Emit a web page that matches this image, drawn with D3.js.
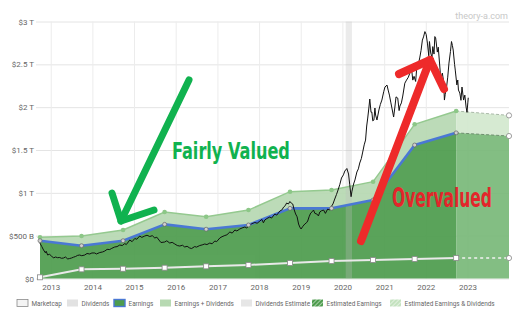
<!DOCTYPE html>
<html>
<head>
<meta charset="utf-8">
<script src="https://cdn.jsdelivr.net/npm/d3@7"></script>
<style>
  html, body { margin: 0; padding: 0; background: #fff; }
  svg { display: block; font-family: Roboto, "Liberation Sans", Arial, sans-serif; }
</style>
</head>
<body>
<svg id="chart" width="531" height="326"></svg>
<script>
// Fiscal-year reporting dates and the valuation series (values in $ billions)
const fiscalDates = ["2012-09-29", "2013-09-28", "2014-09-27", "2015-09-26", "2016-09-24",
  "2017-09-30", "2018-09-29", "2019-09-28", "2020-09-26", "2021-09-25", "2022-09-24"];
const earnings = [441, 383, 441, 632, 575, 625, 819, 819, 916, 1558, 1700];
const earningsPlusDividends = [481, 496, 566, 776, 721, 799, 1013, 1033, 1130, 1800, 1955];
const dividends = [14, 107, 114, 126, 142, 158, 181, 204, 216, 228, 239];

// Forward estimates: last reported year followed by the projection
const estimateDates = ["2022-09-24", "2023-12-31"];
const earningsEstimate = [1700, 1663];
const earningsPlusDividendsEstimate = [1955, 1904];
const dividendsEstimate = [239, 239];

// Market capitalisation ($ billions)
const marketCap = [
  ["2012-09-28",414],["2012-10-15",372],["2012-10-30",333],["2012-11-15",300],["2012-11-22",318],
  ["2012-12-05",274],["2012-12-20",283],["2013-01-08",263],["2013-01-25",240],["2013-02-13",251],
  ["2013-03-01",243],["2013-03-21",245],["2013-04-05",236],["2013-04-23",239],["2013-05-10",251],
  ["2013-05-30",228],["2013-06-15",233],["2013-07-02",239],["2013-07-20",249],["2013-08-07",257],
  ["2013-08-25",270],["2013-09-12",274],["2013-09-30",266],["2013-10-26",274],["2013-11-15",292],
  ["2013-12-09",286],["2013-12-28",298],["2014-01-22",298],["2014-02-05",286],["2014-03-07",303],
  ["2014-04-01",310],["2014-04-20",321],["2014-05-10",340],["2014-06-02",338],["2014-06-20",352],
  ["2014-07-16",368],["2014-08-05",372],["2014-08-29",391],["2014-09-20",385],["2014-10-12",408],
  ["2014-10-25",396],["2014-11-25",449],["2014-12-15",430],["2015-01-08",467],["2015-01-25",458],
  ["2015-02-20",496],["2015-03-10",480],["2015-04-05",496],["2015-04-25",505],["2015-05-19",490],
  ["2015-06-10",500],["2015-07-02",473],["2015-07-20",482],["2015-08-14",438],["2015-08-25",420],
  ["2015-09-27",426],["2015-10-15",440],["2015-11-10",414],["2015-12-01",422],["2015-12-24",403],
  ["2016-01-15",385],["2016-02-06",379],["2016-03-01",388],["2016-03-20",368],["2016-04-10",376],
  ["2016-05-03",356],["2016-05-20",350],["2016-06-16",373],["2016-07-01",366],["2016-07-30",385],
  ["2016-08-20",392],["2016-09-12",403],["2016-10-01",396],["2016-10-26",414],["2016-11-15",405],
  ["2016-12-09",438],["2016-12-25",430],["2017-01-22",473],["2017-02-10",488],["2017-03-07",502],
  ["2017-03-25",510],["2017-04-20",543],["2017-05-10",530],["2017-06-03",566],["2017-06-20",555],
  ["2017-07-16",578],["2017-08-05",590],["2017-08-29",601],["2017-09-15",590],["2017-10-12",624],
  ["2017-10-30",640],["2017-11-25",654],["2017-12-15",645],["2018-01-08",671],["2018-01-25",690],
  ["2018-02-08",650],["2018-02-20",683],["2018-03-10",700],["2018-04-05",718],["2018-04-20",705],
  ["2018-05-19",753],["2018-06-05",740],["2018-07-02",788],["2018-07-20",800],["2018-08-04",834],
  ["2018-08-18",850],["2018-08-30",881],["2018-09-15",870],["2018-09-28",899],["2018-10-10",880],
  ["2018-10-23",869],["2018-11-05",800],["2018-11-17",753],["2018-11-30",720],["2018-12-13",636],
  ["2018-12-24",600],["2019-01-04",578],["2019-01-20",610],["2019-02-06",636],["2019-02-20",650],
  ["2019-03-03",671],["2019-03-15",720],["2019-03-29",764],["2019-04-12",780],["2019-04-23",799],
  ["2019-05-05",760],["2019-05-22",753],["2019-06-05",730],["2019-06-17",776],["2019-07-01",790],
  ["2019-07-20",799],["2019-08-05",760],["2019-08-25",811],["2019-09-10",800],["2019-09-23",834],
  ["2019-10-10",870],["2019-10-26",928],["2019-11-10",980],["2019-11-21",1021],["2019-12-10",1100],
  ["2019-12-24",1173],["2020-01-10",1210],["2020-01-22",1254],["2020-02-09",1284],["2020-02-24",1220],
  ["2020-03-05",1100],["2020-03-17",955],["2020-03-25",1020],["2020-04-08",1103],["2020-04-20",1150],
  ["2020-05-07",1243],["2020-05-20",1280],["2020-06-01",1348],["2020-06-15",1400],["2020-06-27",1476],
  ["2020-07-10",1560],["2020-07-22",1616],["2020-08-01",1780],["2020-08-10",1873],["2020-08-20",1990],
  ["2020-08-28",2095],["2020-09-08",1940],["2020-09-15",1943],["2020-09-23",1840],["2020-10-03",1850],
  ["2020-10-12",1990],["2020-10-18",1908],["2020-10-30",1850],["2020-11-16",1967],["2020-11-28",2030],
  ["2020-12-12",2083],["2020-12-28",2180],["2021-01-08",2235],["2021-01-26",2258],["2021-02-05",2200],
  ["2021-02-16",2141],["2021-03-01",2050],["2021-03-10",1990],["2021-03-25",1885],["2021-04-05",2001],
  ["2021-04-15",2120],["2021-04-30",2106],["2021-05-12",1960],["2021-05-19",2013],["2021-06-01",2050],
  ["2021-06-13",2130],["2021-07-01",2280],["2021-07-16",2316],["2021-08-01",2350],["2021-08-14",2398],
  ["2021-08-28",2460],["2021-09-09",2316],["2021-09-20",2360],["2021-10-04",2300],["2021-10-12",2433],
  ["2021-10-25",2480],["2021-11-10",2585],["2021-11-20",2660],["2021-12-02",2783],["2021-12-12",2820],
  ["2021-12-24",2882],["2022-01-04",2850],["2022-01-15",2748],["2022-01-27",2600],["2022-02-02",2766],
  ["2022-02-13",2632],["2022-02-24",2580],["2022-03-03",2707],["2022-03-14",2620],["2022-03-21",2824],
  ["2022-03-28",2810],["2022-04-12",2643],["2022-04-20",2700],["2022-05-04",2468],["2022-05-12",2330],
  ["2022-05-26",2398],["2022-06-06",2300],["2022-06-13",2083],["2022-06-20",2150],["2022-07-02",2235],
  ["2022-07-12",2350],["2022-07-23",2515],["2022-08-05",2650],["2022-08-14",2766],["2022-08-22",2720],
  ["2022-08-29",2667],["2022-09-10",2500],["2022-09-16",2433],["2022-09-30",2260],["2022-10-08",2317],
  ["2022-10-14",2200],["2022-10-26",2165],["2022-11-05",2080],["2022-11-14",2235],["2022-11-28",2083],
  ["2022-12-09",2141],["2022-12-20",2001],["2022-12-28",1940],["2023-01-04",2050],["2023-01-08",2110]
];

// Axis ticks
const yTicks = [0, 500, 1000, 1500, 2000, 2500, 3000];
const yTickLabels = ["$0", "$500 B", "$1 T", "$1.5 T", "$2 T", "$2.5 T", "$3 T"];
const xTickYears = [2013, 2014, 2015, 2016, 2017, 2018, 2019, 2020, 2021, 2022, 2023];

// Highlighted period (market crash)
const crashPeriod = ["2020-01-30", "2020-03-25"];

const legendLabels = ["Marketcap", "Dividends", "Earnings", "Earnings + Dividends",
  "Dividends Estimate", "Estimated Earnings", "Estimated Earnings & Dividends"];

// ---------------------------------------------------------------------------
const parse = d3.timeParse("%Y-%m-%d");
const svg = d3.select("#chart");

const plot = { left: 40, right: 509, top: 21.5, bottom: 278.5 };

const x = d3.scaleTime()
  .domain([parse("2012-09-29"), parse("2023-12-31")])
  .range([plot.left, plot.right]);
const y = d3.scaleLinear().domain([0, 3000]).range([plot.bottom, plot.top]);

const C = {
  earnFill: "#4d9c4d",
  bandFill: "#b7d9b2",
  estEarnFill: "#79b979",
  estBandFill: "#d3e9cf",
  blue: "#4a78d4",
  bandLine: "#94c98f",
  grid: "#e4e4e4",
  text: "#666"
};

// hatch patterns for the estimate legend swatches
const defs = svg.append("defs");
function hatch(id, bg) {
  const p = defs.append("pattern").attr("id", id).attr("patternUnits", "userSpaceOnUse")
    .attr("width", 3).attr("height", 3).attr("patternTransform", "rotate(45)");
  p.append("rect").attr("width", 3).attr("height", 3).attr("fill", bg);
  p.append("line").attr("x1", 0).attr("y1", 0).attr("x2", 0).attr("y2", 3)
    .attr("stroke", "#fff").attr("stroke-width", 1);
}
hatch("hatchDark", "#4d9c4d");
hatch("hatchLight", "#c4e2bf");

// --- grid + axes -----------------------------------------------------------
const yAxis = svg.append("g")
  .attr("transform", `translate(${plot.right},0)`)
  .call(d3.axisLeft(y).tickValues(yTicks)
    .tickFormat((d, i) => yTickLabels[i])
    .tickSize(plot.right - 36).tickPadding(2));
yAxis.select(".domain").remove();
yAxis.selectAll(".tick line").attr("stroke", C.grid);
yAxis.selectAll(".tick text").attr("fill", C.text)
  .style("font-size", "8px").style("font-family", "Roboto, 'Liberation Sans', Arial, sans-serif");

const xAxis = svg.append("g")
  .attr("transform", `translate(0,${plot.bottom})`)
  .call(d3.axisBottom(x).tickValues(xTickYears.map(yr => new Date(yr, 0, 1)))
    .tickFormat(d3.timeFormat("%Y"))
    .tickSize(-(plot.bottom - plot.top)).tickPadding(6));
xAxis.select(".domain").remove();
xAxis.selectAll(".tick line").attr("stroke", "#ececec");
xAxis.selectAll(".tick text").attr("fill", C.text)
  .style("font-size", "8px").style("font-family", "Roboto, 'Liberation Sans', Arial, sans-serif");

// --- areas -----------------------------------------------------------------
const actual = fiscalDates.map((d, i) => ({
  date: parse(d), e: earnings[i], ed: earningsPlusDividends[i], dv: dividends[i]
}));
const estimate = estimateDates.map((d, i) => ({
  date: parse(d), e: earningsEstimate[i], ed: earningsPlusDividendsEstimate[i], dv: dividendsEstimate[i]
}));

const areas = svg.append("g").attr("opacity", 0.92);
areas.append("path").datum(actual)
  .attr("fill", C.bandFill)
  .attr("d", d3.area().x(d => x(d.date)).y0(d => y(d.e)).y1(d => y(d.ed)));
areas.append("path").datum(actual)
  .attr("fill", C.earnFill)
  .attr("d", d3.area().x(d => x(d.date)).y0(y(0)).y1(d => y(d.e)));
areas.append("path").datum(estimate)
  .attr("fill", C.estBandFill)
  .attr("d", d3.area().x(d => x(d.date)).y0(d => y(d.e)).y1(d => y(d.ed)));
areas.append("path").datum(estimate)
  .attr("fill", C.estEarnFill)
  .attr("d", d3.area().x(d => x(d.date)).y0(y(0)).y1(d => y(d.e)));

// crash period band
svg.append("rect")
  .attr("x", x(parse(crashPeriod[0])))
  .attr("width", x(parse(crashPeriod[1])) - x(parse(crashPeriod[0])))
  .attr("y", plot.top).attr("height", plot.bottom - plot.top)
  .attr("fill", "rgb(190,190,190)").attr("fill-opacity", 0.3);

// --- lines -----------------------------------------------------------------
const lineOf = key => d3.line().x(d => x(d.date)).y(d => y(d[key]));

svg.append("path").datum(actual).attr("fill", "none")
  .attr("stroke", C.bandLine).attr("stroke-width", 1.4).attr("d", lineOf("ed"));
svg.append("path").datum(estimate).attr("fill", "none")
  .attr("stroke", "#a9b9a7").attr("stroke-width", 1).attr("stroke-dasharray", "3,2").attr("d", lineOf("ed"));

svg.append("path").datum(actual).attr("fill", "none")
  .attr("stroke", "#e9e9e9").attr("stroke-width", 2).attr("d", lineOf("dv"));
svg.append("path").datum(estimate).attr("fill", "none")
  .attr("stroke", "#f2f2f2").attr("stroke-width", 1.6).attr("stroke-dasharray", "3,3").attr("d", lineOf("dv"));

svg.append("path").datum(estimate).attr("fill", "none")
  .attr("stroke", "#6f8f6f").attr("stroke-width", 1).attr("stroke-dasharray", "3,2").attr("d", lineOf("e"));

svg.append("path").datum(actual).attr("fill", "none")
  .attr("stroke", C.blue).attr("stroke-width", 2.6).attr("stroke-linejoin", "round").attr("d", lineOf("e"));

// market cap
const capData = marketCap.map(([d, v]) => ({ date: parse(d), v }));
svg.append("path").datum(capData).attr("fill", "none")
  .attr("stroke", "#111").attr("stroke-width", 1).attr("stroke-linejoin", "round")
  .attr("d", d3.line().x(d => x(d.date)).y(d => y(d.v)));

// --- markers ---------------------------------------------------------------
svg.append("g").selectAll("circle").data(actual).join("circle")
  .attr("cx", d => x(d.date)).attr("cy", d => y(d.ed)).attr("r", 2.3)
  .attr("fill", "#8cc787");
svg.append("g").selectAll("circle").data(actual).join("circle")
  .attr("cx", d => x(d.date)).attr("cy", d => y(d.e)).attr("r", 2)
  .attr("fill", "#cfcfcf").attr("stroke", "#666").attr("stroke-width", 0.7);
svg.append("g").selectAll("rect").data(actual).join("rect")
  .attr("x", d => x(d.date) - 2.5).attr("y", d => y(d.dv) - 2.5)
  .attr("width", 5).attr("height", 5)
  .attr("fill", "#fff").attr("stroke", "#888").attr("stroke-width", 0.8);

const estEnd = estimate.slice(1);
["e", "ed", "dv"].forEach(k => {
  svg.append("g").selectAll("circle").data(estEnd).join("circle")
    .attr("cx", d => x(d.date)).attr("cy", d => y(d[k])).attr("r", 2.6)
    .attr("fill", "#fff").attr("stroke", "#888").attr("stroke-width", 0.8);
});

// --- watermark -------------------------------------------------------------
svg.append("text").attr("x", 508).attr("y", 19).attr("text-anchor", "end")
  .attr("fill", "#c8c8c8").style("font-size", "9px").text("theory-a.com");

// --- annotations -----------------------------------------------------------
const ann = svg.append("g").attr("fill", "none").attr("stroke-linecap", "round").attr("stroke-linejoin", "round");
const green = "#10b24f", red = "#ee2a2a";
ann.append("path").attr("stroke", green).attr("stroke-width", 7)
  .attr("d", d3.line()([[189, 80], [121, 221]]));
ann.append("path").attr("stroke", green).attr("stroke-width", 7)
  .attr("d", d3.line()([[112, 193], [121, 221], [154, 210]]));
ann.append("path").attr("stroke", red).attr("stroke-width", 8)
  .attr("d", d3.line()([[361, 241], [430, 60]]));
ann.append("path").attr("stroke", red).attr("stroke-width", 8)
  .attr("d", d3.line()([[399, 74], [430, 60], [444, 89]]));

// condensed headline labels: natural glyphs squeezed horizontally to the target width
const annFont = "'Liberation Sans Narrow', 'DejaVu Sans Condensed', 'Roboto Condensed', sans-serif";
function headline(label, px, py, size, width, color) {
  const t = svg.append("text")
    .attr("fill", color).style("font-family", annFont).style("font-weight", "bold")
    .style("font-size", size + "px").text(label);
  const w = t.node().getComputedTextLength();
  t.attr("transform", `translate(${px},${py}) scale(${width / w},1)`);
}
headline("Fairly Valued", 172, 158.5, 23.5, 118, green);
headline("Overvalued", 392, 206.5, 27, 100, "#e3262b");

// --- legend ----------------------------------------------------------------
const legendX = [17, 67, 114, 160, 241, 312, 390];
const swatches = [
  { fill: "#f4f4f4", stroke: "#8a8a8a" },
  { fill: "#e2e2e2", stroke: "none" },
  { fill: C.earnFill, stroke: C.blue },
  { fill: C.bandFill, stroke: "none" },
  { fill: "#e6e6e6", stroke: "none" },
  { fill: "url(#hatchDark)", stroke: "none" },
  { fill: "url(#hatchLight)", stroke: "none" }
];
const legend = svg.append("g");
const items = legend.selectAll("g").data(legendLabels).join("g")
  .attr("transform", (d, i) => `translate(${legendX[i]},299.5)`);
items.append("rect").attr("width", 11).attr("height", 7)
  .attr("fill", (d, i) => swatches[i].fill)
  .attr("stroke", (d, i) => swatches[i].stroke)
  .attr("stroke-width", (d, i) => i === 2 ? 1.4 : 0.8);
items.append("text").attr("x", 14.5).attr("y", 6)
  .attr("fill", C.text).style("font-size", "6.4px").text(d => d);
</script>
</body>
</html>
